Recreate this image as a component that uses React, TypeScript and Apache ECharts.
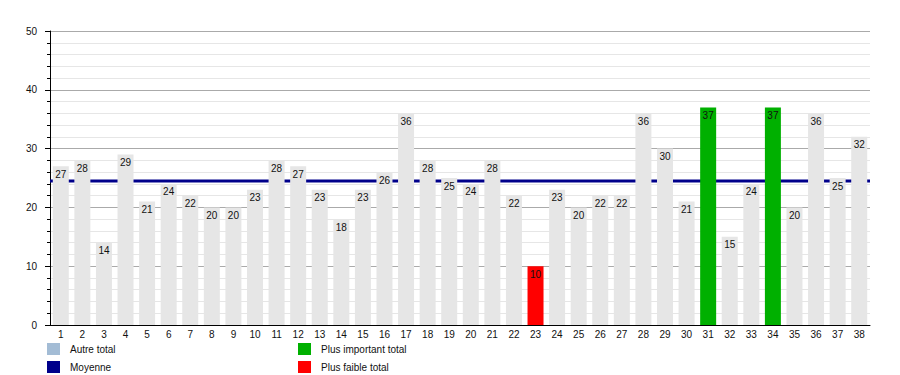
import React, { useEffect, useRef } from "react";
import * as echarts from "echarts";

const categories = Array.from({ length: 38 }, (_, i) => String(i + 1));
const totals = [27, 28, 14, 29, 21, 24, 22, 20, 20, 23, 28, 27, 23, 18, 23, 26, 36, 28, 25, 24, 28, 22, 10, 23, 20, 22, 22, 36, 30, 21, 37, 15, 24, 37, 20, 36, 25, 32];
const highestCats = ["31", "34"];
const lowestCats = ["23"];
const meanValue = 24.5;
const yTicks = { min: 0, max: 50, interval: 10 };

const FONT = "'Liberation Sans', Arial, sans-serif";
const C_OTHER = "#e6e6e6";
const C_OTHER_LEGEND = "#a3bcd5";
const C_MEAN = "#00008b";
const C_HIGH = "#00b000";
const C_LOW = "#ff0000";

export default function App() {
  const ref = useRef<HTMLDivElement>(null);
  useEffect(() => {
    if (!ref.current) return;
    const chart = echarts.init(ref.current, undefined, { renderer: "svg" });
    const pick = (list: string[]) =>
      totals.map((v, i) => (list.includes(categories[i]) ? v : null));
    const otherData = totals.map((v, i) =>
      highestCats.includes(categories[i]) || lowestCats.includes(categories[i]) ? null : v
    );
    const label = {
      show: true,
      position: "insideTop" as const,
      distance: 3,
      color: "#111",
      fontSize: 10,
      fontFamily: FONT,
    };
    const legendBase = {
      orient: "vertical" as const,
      top: 343,
      itemWidth: 13,
      itemHeight: 12,
      itemGap: 6,
      icon: "rect",
      selectedMode: false,
      padding: 0,
      textStyle: { fontSize: 10, color: "#111", fontFamily: FONT, padding: [0, 0, 0, 5] },
    };
    chart.setOption({
      animation: false,
      textStyle: { fontFamily: FONT },
      grid: { left: 50, right: 30, top: 31, bottom: 50, containLabel: false },
      legend: [
        {
          ...legendBase,
          left: 47,
          data: [
            { name: "Autre total", itemStyle: { color: C_OTHER_LEGEND } },
            { name: "Moyenne", itemStyle: { color: C_MEAN } },
          ],
        },
        {
          ...legendBase,
          left: 298,
          data: [
            { name: "Plus important total", itemStyle: { color: C_HIGH } },
            { name: "Plus faible total", itemStyle: { color: C_LOW } },
          ],
        },
      ],
      xAxis: [
        {
          type: "category",
          data: categories,
          axisLine: { show: true, lineStyle: { color: "#000", width: 1 } },
          axisTick: { show: false },
          axisLabel: { fontSize: 10, color: "#111", margin: 4, interval: 0, fontFamily: FONT },
          splitLine: { show: false },
        },
        { type: "value", min: 0, max: 1, show: false },
      ],
      yAxis: {
        type: "value",
        min: yTicks.min,
        max: yTicks.max,
        interval: yTicks.interval,
        axisLine: { show: true, lineStyle: { color: "#000", width: 1 } },
        axisTick: { show: true, inside: false, length: 5, lineStyle: { color: "#000" } },
        minorTick: { show: true, splitNumber: 5, length: 3, lineStyle: { color: "#000" } },
        axisLabel: { fontSize: 10, color: "#111", margin: 13, fontFamily: FONT },
        splitLine: { show: true, lineStyle: { color: "#aaaaaa", width: 1 } },
        minorSplitLine: { show: true, lineStyle: { color: "#e6e6e6", width: 1 } },
      },
      series: [
        {
          name: "Moyenne",
          type: "line",
          xAxisIndex: 1,
          z: 1,
          symbol: "none",
          data: [
            [0, meanValue],
            [1, meanValue],
          ],
          lineStyle: { color: C_MEAN, width: 3 },
          itemStyle: { color: C_MEAN },
        },
        {
          name: "Autre total",
          type: "bar",
          z: 2,
          barWidth: 16,
          barGap: "-100%",
          data: otherData,
          itemStyle: { color: C_OTHER },
          label,
        },
        {
          name: "Plus important total",
          type: "bar",
          z: 2,
          barWidth: 16,
          barGap: "-100%",
          data: pick(highestCats),
          itemStyle: { color: C_HIGH },
          label,
        },
        {
          name: "Plus faible total",
          type: "bar",
          z: 2,
          barWidth: 16,
          barGap: "-100%",
          data: pick(lowestCats),
          itemStyle: { color: C_LOW },
          label,
        },
      ],
    });
    return () => chart.dispose();
  }, []);
  return <div ref={ref} style={{ width: 900, height: 375, position: "absolute", left: 0, top: 0 }} />;
}
